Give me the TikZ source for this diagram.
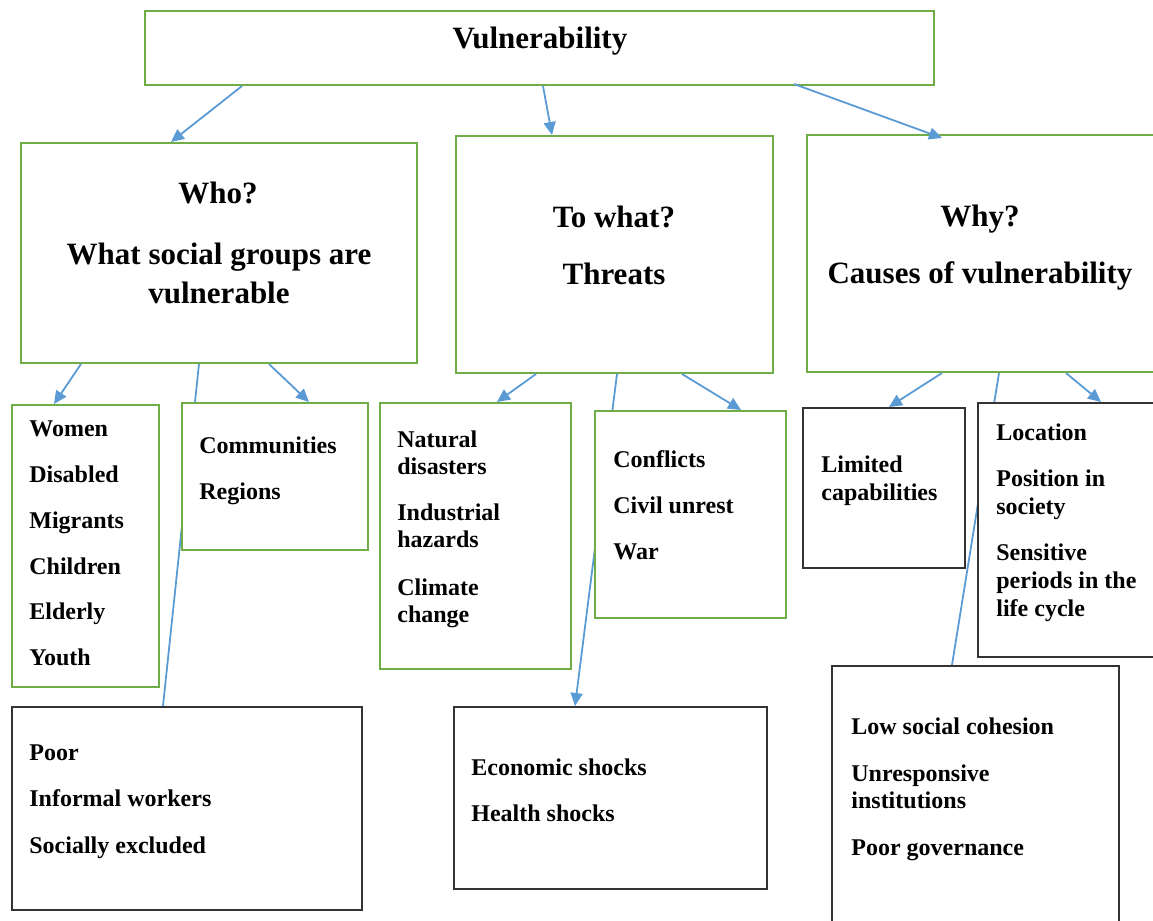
\documentclass[tikz,border=0pt]{standalone}
\usepackage{fontspec}
\setmainfont{Liberation Serif}
\usetikzlibrary{arrows.meta,fit,calc,backgrounds}
\definecolor{boxgreen}{HTML}{70AD47}
\definecolor{boxdark}{HTML}{333333}
\definecolor{arrowblue}{HTML}{5B9BD5}
\tikzset{
  gbox/.style={draw=boxgreen, line width=1pt, fill=white, inner sep=0pt},
  kbox/.style={draw=boxdark, line width=1pt, fill=white, inner sep=0pt},
  arr/.style={draw=arrowblue, line width=0.9pt, -{Triangle[length=6.5pt,width=6pt]}},
  ln/.style={draw=arrowblue, line width=0.9pt},
  head/.style={font=\fontsize{15.5}{18}\selectfont\bfseries, anchor=base, inner sep=0pt},
  item/.style={font=\fontsize{12}{14}\selectfont\bfseries, anchor=base west, inner sep=0pt},
}
\begin{document}
\begin{tikzpicture}[x=0.5pt,y=-0.5pt]
\useasboundingbox (0,0) rectangle (1153,921);
% boxes
\node[gbox, fit={(145,11)(934,85)}] (top) {};
\node[gbox, fit={(21,143)(417,363)}] (who) {};
\node[gbox, fit={(456,136)(773,373)}] (towhat) {};
\node[gbox, fit={(807,135)(1165,372)}] (why) {};
\node[kbox, fit={(12,707)(362,910)}] (poor) {};
\node[gbox, fit={(12,405)(159,687)}] (women) {};
\node[kbox, fit={(454,707)(767,889)}] (econ) {};
\node[gbox, fit={(380,403)(571,669)}] (nat) {};
\node[kbox, fit={(832,666)(1119,935)}] (low) {};
\node[kbox, fit={(803,408)(965,568)}] (lim) {};
% connectors behind covering boxes
\begin{scope}[on background layer]
\draw[ln] ($(who.south west)+(179,0)$) -- ($(poor.north west)+(152,0)$);
\draw[arr] ($(towhat.south west)+(162,0)$) -- ($(econ.north west)+(122,0)$);
\draw[ln] ($(why.south west)+(193,0)$) -- ($(low.north west)+(121,0)$);
\end{scope}
\node[gbox, fit={(182,403)(368,550)}] (comm) {};
\node[gbox, fit={(595,411)(786,618)}] (conf) {};
\node[kbox, fit={(978,403)(1165,657)}] (loc) {};
% arrows
\draw[arr] ($(top.south west)+(98,0)$) -- ($(who.north west)+(151,0)$);
\draw[arr] ($(top.south west)+(399,0)$) -- ($(towhat.north west)+(97,0)$);
\draw[arr] ($(top.south west)+(650,-2)$) -- ($(why.north west)+(136,4)$);
\draw[arr] ($(who.south west)+(61,0)$) -- ($(women.north west)+(43,0)$);
\draw[arr] ($(who.south west)+(249,0)$) -- ($(comm.north west)+(128,0)$);
\draw[arr] ($(towhat.south west)+(81,0)$) -- ($(nat.north west)+(118,0)$);
\draw[arr] ($(towhat.south west)+(227,0)$) -- ($(conf.north west)+(147,0)$);
\draw[arr] ($(why.south west)+(136,0)$) -- ($(lim.north west)+(87,0)$);
\draw[arr] ($(why.south west)+(260,0)$) -- ($(loc.north west)+(124,0)$);
% headings
\node[head] (tV) at (540,48) {Vulnerability};
\node[head] (tW1) at (218,203) {Who?};
\node[head] (tW2) at (219,264) {What social groups are};
\node[head] (tW3) at (219,303) {vulnerable};
\node[head] (tT1) at (614,227) {To what?};
\node[head] (tT2) at (614,284) {Threats};
\node[head] (tY1) at (980,226) {Why?};
\node[head] (tY2) at (980,283) {Causes of vulnerability};
% items
\node[item] (a1) at (29,436) {Women};
\node[item] (a2) at (29,482) {Disabled};
\node[item] (a3) at (29,528) {Migrants};
\node[item] (a4) at (29,574) {Children};
\node[item] (a5) at (29,619) {Elderly};
\node[item] (a6) at (29,665) {Youth};
\node[item] (b1) at (199,453) {Communities};
\node[item] (b2) at (199,499) {Regions};
\node[item] (c1) at (397,447) {Natural};
\node[item] (c2) at (397,474) {disasters};
\node[item] (c3) at (397,520) {Industrial};
\node[item] (c4) at (397,547) {hazards};
\node[item] (c5) at (397,595) {Climate};
\node[item] (c6) at (397,622) {change};
\node[item] (d1) at (613,467) {Conflicts};
\node[item] (d2) at (613,513) {Civil unrest};
\node[item] (d3) at (613,559) {War};
\node[item] (e1) at (821,472) {Limited};
\node[item] (e2) at (821,500) {capabilities};
\node[item] (f1) at (996,440) {Location};
\node[item] (f2) at (996,486) {Position in};
\node[item] (f3) at (996,514) {society};
\node[item] (f4) at (996,560) {Sensitive};
\node[item] (f5) at (996,588) {periods in the};
\node[item] (f6) at (996,616) {life cycle};
\node[item] (g1) at (29,760) {Poor};
\node[item] (g2) at (29,806) {Informal workers};
\node[item] (g3) at (29,853) {Socially excluded};
\node[item] (h1) at (471,775) {Economic shocks};
\node[item] (h2) at (471,821) {Health shocks};
\node[item] (i1) at (851,734) {Low social cohesion};
\node[item] (i2) at (851,781) {Unresponsive};
\node[item] (i3) at (851,808) {institutions};
\node[item] (i4) at (851,855) {Poor governance};
\end{tikzpicture}
\end{document}
